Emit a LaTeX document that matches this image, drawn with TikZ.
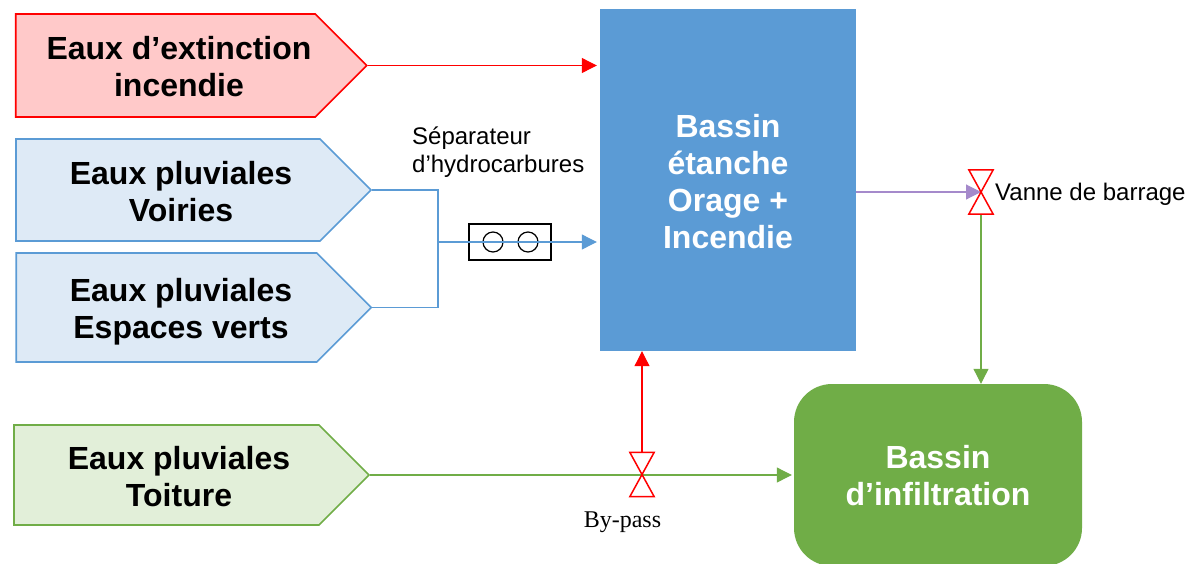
\documentclass[tikz,border=0pt]{standalone}
\usepackage{fontspec}
\setmainfont{Liberation Sans}
\newfontfamily\serifnote{Liberation Serif}
\usetikzlibrary{arrows.meta,shapes.symbols}
\definecolor{bluefill}{HTML}{DEEAF6}
\definecolor{blueline}{HTML}{5B9BD5}
\definecolor{greenfill}{HTML}{E2EFD9}
\definecolor{greenline}{HTML}{70AD47}
\definecolor{redfill}{HTML}{FFC9C9}
\definecolor{purpleline}{HTML}{A58ACB}
\newcommand{\decal}[1]{\hspace*{#1pt}}
\newcommand{\hausse}[1]{\rule{0pt}{#1pt}}
\tikzset{
    source/.style={shape=signal, signal to=east, signal pointer angle=90, draw, line width=1.6pt, inner sep=0pt, align=center, text=black, font=\fontsize{32}{37}\selectfont\bfseries},
    basin/.style={align=center, text=white, font=\fontsize{32}{37}\selectfont\bfseries},
    valve/.style={minimum width=24pt, minimum height=44pt, inner sep=0pt},
    flow/.style={-{Triangle[length=15pt,width=15pt]}, line width=1.1pt},
    note/.style={font=\fontsize{24}{28}\selectfont, inner sep=0pt},
    roundel/.style={draw, circle, line width=1.2pt, minimum size=20pt, inner sep=0pt}
}
\begin{document}
\begin{tikzpicture}[x=1pt, y=-1pt]
    \useasboundingbox (0,0) rectangle (1202,563);
    % sources
    \node[source, draw=red, fill=redfill, minimum width=351pt, minimum height=103pt] (incendie) at (165.5,65.5) {\hausse{26}\decal{27}Eaux d’extinction\\\decal{27}incendie};
    \node[source, draw=blueline, fill=bluefill, minimum width=355pt, minimum height=102pt] (voiries) at (168,190) {\hausse{26}\decal{26}Eaux pluviales\\\decal{26}Voiries};
    \node[source, draw=blueline, fill=bluefill, minimum width=355pt, minimum height=109pt] (verts) at (166.5,307.5) {\hausse{32}\decal{29}Eaux pluviales\\\decal{29}Espaces verts};
    \node[source, draw=greenline, fill=greenfill, minimum width=355pt, minimum height=100pt] (toiture) at (166.5,475) {\hausse{26}\decal{25}Eaux pluviales\\\decal{25}Toiture};
    % basins
    \node[basin, fill=blueline, minimum width=256pt, minimum height=342pt] (etanche) at (728,180) {\hausse{26}Bassin\\étanche\\Orage +\\Incendie};
    \node[basin, fill=greenline, rounded corners=38pt, minimum width=288pt, minimum height=182pt] (infiltration) at (938,475) {\hausse{24.5}Bassin\\d’infiltration};
    % separator
    \node[draw, line width=1.3pt, minimum width=82pt, minimum height=36pt] (separateur) at (510,242) {};
    \node[roundel] (rond1) at (493,242) {};
    \node[roundel] (rond2) at (528,242) {};
    % valves
    \node[valve] (vanne) at (981,192) {};
    \node[valve] (bypass) at (642,474.5) {};
    % flows
    \coordinate (jonction) at (438,242);
    \draw[flow, red, shorten >=3pt] (incendie.east) -- (etanche.west |- incendie.east);
    \draw[blueline, line width=1.1pt] (voiries.east) -| (jonction);
    \draw[blueline, line width=1.1pt] (verts.east) -| (jonction);
    \draw[flow, blueline, shorten >=3pt] (jonction) -- (etanche.west |- jonction);
    \draw[flow, purpleline] (etanche.east |- vanne) -- (vanne.center);
    \draw[flow, greenline] (vanne.south) -- (infiltration.north -| vanne);
    \draw[flow, greenline, shorten >=2pt] (toiture.east) -- (infiltration.west |- toiture.east);
    \draw[flow, red] (bypass.north) -- (etanche.south -| bypass);
    \foreach \v in {vanne, bypass}
        \draw[red, line width=1.5pt] (\v.north west) -- (\v.north east) -- (\v.south west) -- (\v.south east) -- cycle;
    % labels
    \node[note, align=left, anchor=north west] (labelsep) at (412,127) {Séparateur\\d’hydrocarbures};
    \node[note, anchor=west] (labelvanne) at (995,194) {Vanne de barrage};
    \node[note, font=\fontsize{24}{28}\selectfont\serifnote] (labelbypass) at (622.5,522) {By-pass};
\end{tikzpicture}
\end{document}
